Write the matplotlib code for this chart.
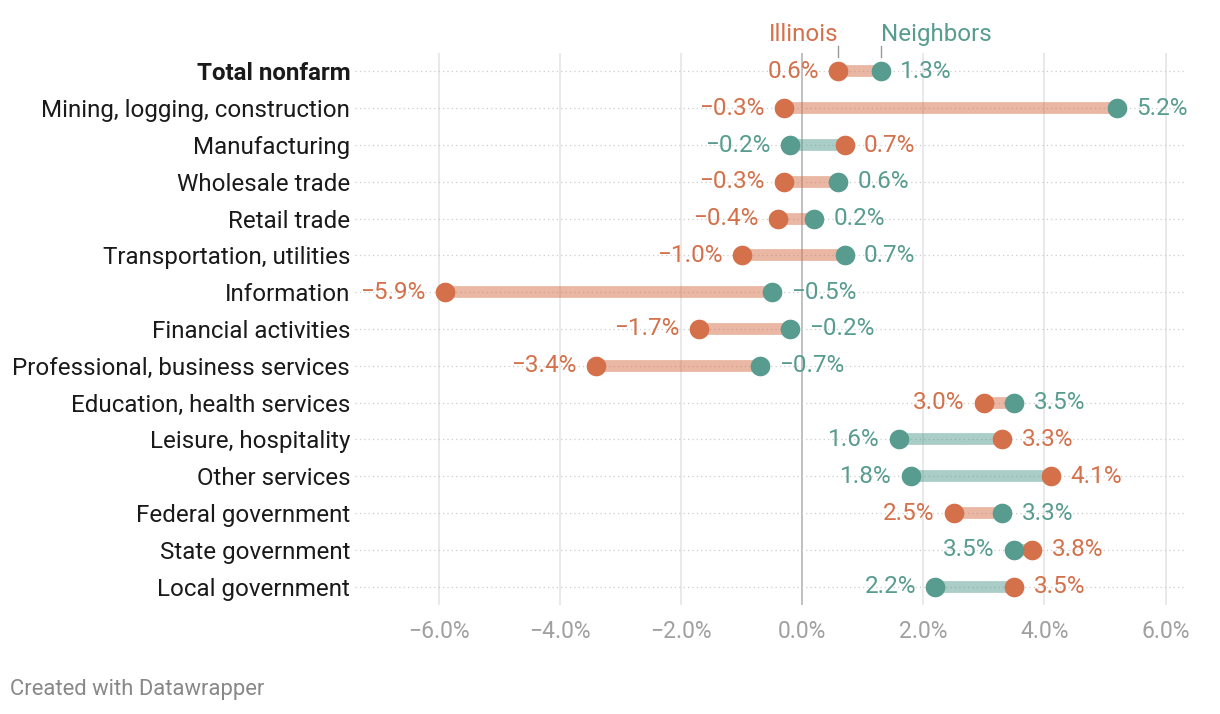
import matplotlib.pyplot as plt

plt.rcParams['font.family'] = ['Roboto', 'DejaVu Sans']

categories = ['Total nonfarm', 'Mining, logging, construction', 'Manufacturing',
              'Wholesale trade', 'Retail trade', 'Transportation, utilities',
              'Information', 'Financial activities', 'Professional, business services',
              'Education, health services', 'Leisure, hospitality', 'Other services',
              'Federal government', 'State government', 'Local government']
illinois = [0.6, -0.3, 0.7, -0.3, -0.4, -1.0, -5.9, -1.7, -3.4, 3.0, 3.3, 4.1, 2.5, 3.8, 3.5]
neighbors = [1.3, 5.2, -0.2, 0.6, 0.2, 0.7, -0.5, -0.2, -0.7, 3.5, 1.6, 1.8, 3.3, 3.5, 2.2]
xticks = [-6, -4, -2, 0, 2, 4, 6]

c_il = '#d4704a'
c_nb = '#589c90'


def pct(v):
    return '%.1f%%' % v if v >= 0 else '\u2212%.1f%%' % -v


fig = plt.figure(figsize=(12.2, 7.14), dpi=100)
ax = fig.add_axes([355 / 1220, 1 - 605 / 714, 830 / 1220, 552 / 714])
ax.set_xlim(-7.38, 6.32)
ax.set_ylim(14.5, -0.5)

for t in xticks:
    ax.axvline(t, color='#bbbbbb' if t == 0 else '#e3e3e3', lw=1.3 if t == 0 else 1.1, zorder=0)

for i, (a, b) in enumerate(zip(illinois, neighbors)):
    ax.plot([-7.38, 6.32], [i, i], color='#cccccc', lw=0.9, ls=(0, (1, 2.5)), zorder=0)
    lo_col = c_il if a < b else c_nb
    ax.plot([a, b], [i, i], color=lo_col, alpha=0.5, lw=8.5, solid_capstyle='butt', zorder=1)
    ax.scatter([a], [i], s=200, color=c_il, zorder=3, lw=0)
    ax.scatter([b], [i], s=200, color=c_nb, zorder=3, lw=0)
    lo, hi = (a, b) if a < b else (b, a)
    lo_c, hi_c = (c_il, c_nb) if a < b else (c_nb, c_il)
    ax.annotate(pct(lo), (lo, i), xytext=(-14, 0), textcoords='offset points',
                ha='right', va='center', color=lo_c, fontsize=17.5)
    ax.annotate(pct(hi), (hi, i), xytext=(14, 0), textcoords='offset points',
                ha='left', va='center', color=hi_c, fontsize=17.5)

ax.set_yticks(range(len(categories)))
ax.set_yticklabels(categories, fontsize=17.4, color='#1a1a1a')
ax.get_yticklabels()[0].set_fontweight('bold')
ax.set_xticks(xticks)
ax.set_xticklabels([pct(t) for t in xticks], fontsize=16.5, color='#a0a0a0')
ax.tick_params(axis='y', length=0, pad=3.5)
ax.tick_params(axis='x', length=0, pad=11)
for s in ax.spines.values():
    s.set_visible(False)

# legend labels above first row
ax.annotate('Illinois', (illinois[0], 0), xytext=(0, 18.5), textcoords='offset points',
            ha='right', va='bottom', color=c_il, fontsize=17.4)
ax.annotate('Neighbors', (neighbors[0], 0), xytext=(0, 18.5), textcoords='offset points',
            ha='left', va='bottom', color=c_nb, fontsize=17.4)
for v in [illinois[0], neighbors[0]]:
    ax.plot([v, v], [-0.38, -0.68], color='#999999', lw=1, zorder=2, clip_on=False)

fig.text(10 / 1220, 1 - 690 / 714, 'Created with Datawrapper', fontsize=15.8, color='#888888',
         va='center', ha='left')

fig.savefig('out.png', dpi=100, facecolor='white')
